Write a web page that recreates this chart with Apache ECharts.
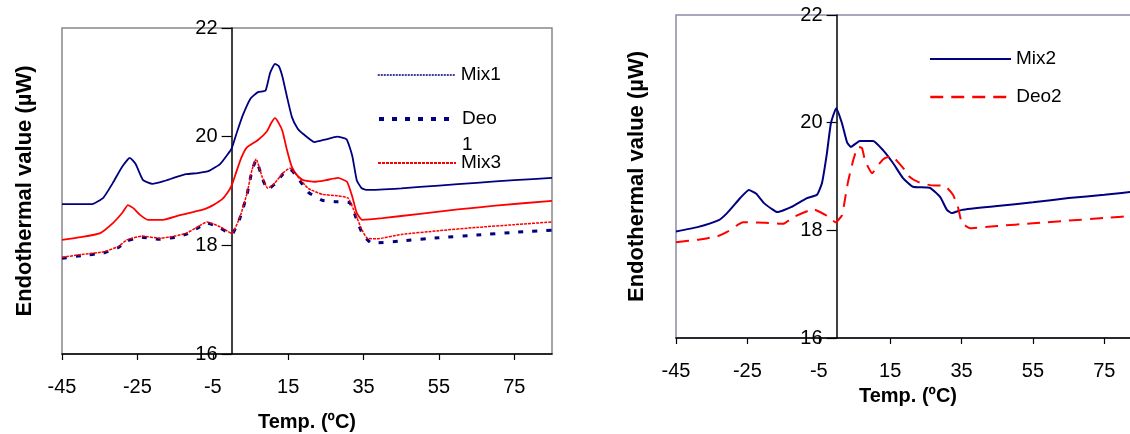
<!DOCTYPE html>
<html>
<head>
<meta charset="utf-8">
<script src="https://cdn.jsdelivr.net/npm/echarts@6/dist/echarts.min.js"></script>
<style>
html,body{margin:0;padding:0;background:#fff;}
#chart{width:1130px;height:434px;}
</style>
</head>
<body>
<div id="chart"></div>
<script>
// ---- data: [temperature (ºC), endothermal value (µW)] ----
const xTicks = [-45, -25, -5, 15, 35, 55, 75];
const yTicks = [16, 18, 20, 22];

const mix1 = [[-45,18.76],[-37,18.76],[-34,18.88],[-31.5,19.15],[-29,19.45],[-27,19.61],[-25.5,19.5],[-23.5,19.2],[-21,19.13],[-18,19.18],[-15,19.25],[-12,19.31],[-9,19.33],[-6,19.37],[-3,19.5],[-1,19.68],[0,19.78],[1.5,20.1],[3,20.4],[5,20.7],[7,20.82],[9,20.85],[10.2,21.17],[11.5,21.34],[12.5,21.3],[13.5,21.1],[14.7,20.73],[16,20.36],[17.5,20.15],[19,20.05],[22,19.9],[25,19.95],[28,20.0],[30.5,19.95],[32,19.65],[33.2,19.2],[34.5,19.05],[36,19.02],[45,19.05],[55,19.1],[65,19.15],[75,19.2],[85,19.24]];

const deo3 = [[-45,18.10],[-40,18.15],[-35,18.22],[-31.5,18.41],[-29,18.6],[-27.5,18.74],[-26,18.68],[-24.3,18.56],[-22.2,18.47],[-18.2,18.47],[-14,18.55],[-10.3,18.61],[-7,18.67],[-4.9,18.74],[-2.5,18.85],[-1.2,18.96],[0,19.1],[1,19.3],[2.5,19.6],[4,19.8],[7,19.94],[9.4,20.1],[10.5,20.25],[11.5,20.34],[12.5,20.25],[13.5,20.1],[14.7,19.75],[16,19.44],[17.5,19.28],[19,19.2],[22,19.17],[25,19.2],[28.2,19.24],[30.6,19.17],[32,18.9],[33.2,18.6],[34.6,18.47],[40,18.5],[50,18.58],[60,18.66],[70,18.73],[85,18.82]];

const mix3 = [[-45,17.78],[-40,17.83],[-34,17.88],[-30,17.98],[-27.8,18.1],[-23.8,18.17],[-19,18.13],[-15,18.17],[-11.8,18.23],[-8.5,18.36],[-6.5,18.43],[-3,18.34],[0,18.22],[2.2,18.52],[4.1,18.96],[5.4,19.39],[6.5,19.59],[8.1,19.26],[9.6,19.05],[11.5,19.15],[13.6,19.33],[15.5,19.42],[17.3,19.29],[20.3,19.05],[24,18.94],[28.2,18.91],[30.9,18.87],[32.7,18.6],[34.6,18.28],[36,18.13],[38.6,18.12],[45,18.2],[55,18.27],[65,18.33],[75,18.38],[85,18.43]];

const deo1 = [[-45,17.76],[-40,17.81],[-34,17.86],[-30,17.96],[-27.8,18.08],[-23.8,18.15],[-19,18.11],[-15,18.15],[-11.8,18.21],[-8.5,18.34],[-6.5,18.41],[-3,18.32],[0,18.2],[2.2,18.5],[4.1,18.94],[5.4,19.37],[6.5,19.57],[8.1,19.24],[9.6,19.03],[11.5,19.13],[13.6,19.31],[15.5,19.4],[17.3,19.27],[20.3,18.98],[24,18.83],[28.2,18.8],[31.4,18.78],[33.5,18.41],[34.9,18.19],[37.2,18.04],[45,18.08],[55,18.14],[65,18.19],[75,18.24],[85,18.28]];

const mix2 = [[-45,17.98],[-39,18.06],[-33,18.19],[-30.7,18.32],[-27,18.6],[-24.6,18.75],[-22.5,18.68],[-20.4,18.51],[-18,18.39],[-16.6,18.34],[-12.8,18.43],[-8.3,18.6],[-5.5,18.66],[-4.1,18.88],[-2.7,19.44],[-1.6,19.99],[-0.1,20.27],[1.5,19.99],[2.9,19.64],[4,19.55],[6.5,19.66],[10.2,19.66],[13,19.49],[15.8,19.25],[18.6,18.97],[21.4,18.81],[26.1,18.79],[29,18.62],[30.9,18.38],[32.3,18.32],[35.1,18.38],[45,18.45],[55,18.52],[65,18.6],[75,18.66],[85,18.73]];

const deo2 = [[-45,17.78],[-38.3,17.83],[-33,17.9],[-30.7,17.97],[-26.2,18.15],[-20,18.14],[-15,18.12],[-12,18.25],[-6.5,18.39],[-2.7,18.27],[-0.3,18.15],[1.5,18.28],[2.3,18.56],[3.2,18.9],[4.3,19.21],[4.9,19.36],[6,19.55],[7.1,19.53],[7.9,19.31],[8.8,19.18],[9.9,19.06],[12.1,19.25],[13.5,19.34],[15.5,19.38],[16.9,19.29],[19.1,19.12],[20.5,18.99],[22.8,18.9],[26.1,18.84],[30.4,18.82],[32.6,18.66],[34,18.43],[35.1,18.14],[37.4,18.04],[45,18.08],[55,18.13],[65,18.18],[75,18.23],[85,18.28]];

const yTitle = 'Endothermal value (µW)';
const xTitle = 'Temp. (ºC)';

// ---- chart ----
const FONT = '"Liberation Sans", Arial, sans-serif';
const NAVY = '#000080';
const RED = '#ff0000';
const X_MIN = xTicks[0], X_MAX = 85;

function xAxisCfg(grid, gap) {
  return {
    gridIndex: grid, type: 'value',
    min: X_MIN, max: X_MAX, interval: xTicks[1] - xTicks[0],
    axisLine: { onZero: false, lineStyle: { color: '#000', width: 1.5 } },
    axisTick: { length: 6, lineStyle: { color: '#000', width: 1.2 } },
    axisLabel: { showMaxLabel: false, fontSize: 20, color: '#000', margin: 23, fontFamily: FONT },
    splitLine: { show: false },
    name: xTitle, nameLocation: 'middle', nameGap: gap,
    nameTextStyle: { fontWeight: 'bold', fontSize: 20, color: '#000', fontFamily: FONT }
  };
}
// y axis drawn at x = 0 of the temperature axis, via offset from the grid's left edge
function yAxisCfg(grid, gridWidth, gap) {
  const zeroOffset = (0 - X_MIN) / (X_MAX - X_MIN) * gridWidth;
  return {
    gridIndex: grid, type: 'value', position: 'left', offset: -zeroOffset,
    min: yTicks[0], max: yTicks[yTicks.length - 1], interval: yTicks[1] - yTicks[0],
    axisLine: { onZero: false, lineStyle: { color: '#000', width: 1.5 } },
    axisTick: { length: 10, lineStyle: { color: '#000', width: 1.2 } },
    axisLabel: { fontSize: 20, color: '#000', margin: 14, fontFamily: FONT },
    splitLine: { show: false },
    name: yTitle, nameLocation: 'middle', nameGap: gap,
    nameTextStyle: { fontWeight: 'bold', fontSize: 22, color: '#000', fontFamily: FONT }
  };
}
function line(name, data, g, color, width, type) {
  return {
    name: name, type: 'line', xAxisIndex: g, yAxisIndex: g,
    data: data, symbol: 'none', showSymbol: false, smooth: 0.15,
    lineStyle: { color: color, width: width, type: type },
    itemStyle: { color: color }, z: 3
  };
}
function legendCfg(name, left, top, w, textStyleExtra, formatter, lineStyle) {
  const ts = Object.assign({ fontSize: 19, color: '#000', fontFamily: FONT, lineHeight: 20 }, textStyleExtra || {});
  const l = {
    data: [name], left: left, top: top, orient: 'vertical', padding: 0,
    itemWidth: w, itemHeight: 20, itemGap: 5, selectedMode: false,
    itemStyle: { opacity: 0, color: 'rgba(0,0,0,0)', borderWidth: 0 },
    textStyle: ts
  };
  if (lineStyle) l.lineStyle = lineStyle;
  if (formatter) l.formatter = formatter;
  return l;
}

const chart = echarts.init(document.getElementById('chart'), null, { renderer: 'canvas' });
chart.setOption({
  animation: false,
  backgroundColor: '#fff',
  grid: [
    { left: 62, top: 28, width: 490, height: 326, show: true, borderColor: '#888', borderWidth: 1.5, containLabel: false, outerBoundsMode: 'none' },
    { left: 676, top: 15, width: 464, height: 323, show: true, borderColor: '#8a8aa8', borderWidth: 1.5, containLabel: false, outerBoundsMode: 'none' }
  ],
  xAxis: [xAxisCfg(0, 58), xAxisCfg(1, 48)],
  yAxis: [yAxisCfg(0, 490, 196), yAxisCfg(1, 464, 189)],
  legend: [
    legendCfg('Mix1', 377, 65, 78, null, null, { type: [2, 1], width: 1.5 }),
    legendCfg('Deo1', 377, 80, 78, { lineHeight: 26 }, function () { return '\nDeo\n1'; }, { type: [5, 8], width: 4 }),
    legendCfg('Mix3', 377, 153, 78),
    legendCfg('Mix2', 929, 49, 81),
    legendCfg('Deo2', 929, 87, 81, null, null, { width: 2.5 })
  ],
  series: [
    line('Mix1', mix1, 0, NAVY, 1.8, 'solid'),
    line('Deo3', deo3, 0, RED, 1.8, 'solid'),
    line('Deo1', deo1, 0, NAVY, 3, [5, 9]),
    line('Mix3', mix3, 0, RED, 1.5, [3, 1]),
    line('Mix2', mix2, 1, NAVY, 2, 'solid'),
    line('Deo2', deo2, 1, RED, 2, [13, 8])
  ]
});
</script>
</body>
</html>
